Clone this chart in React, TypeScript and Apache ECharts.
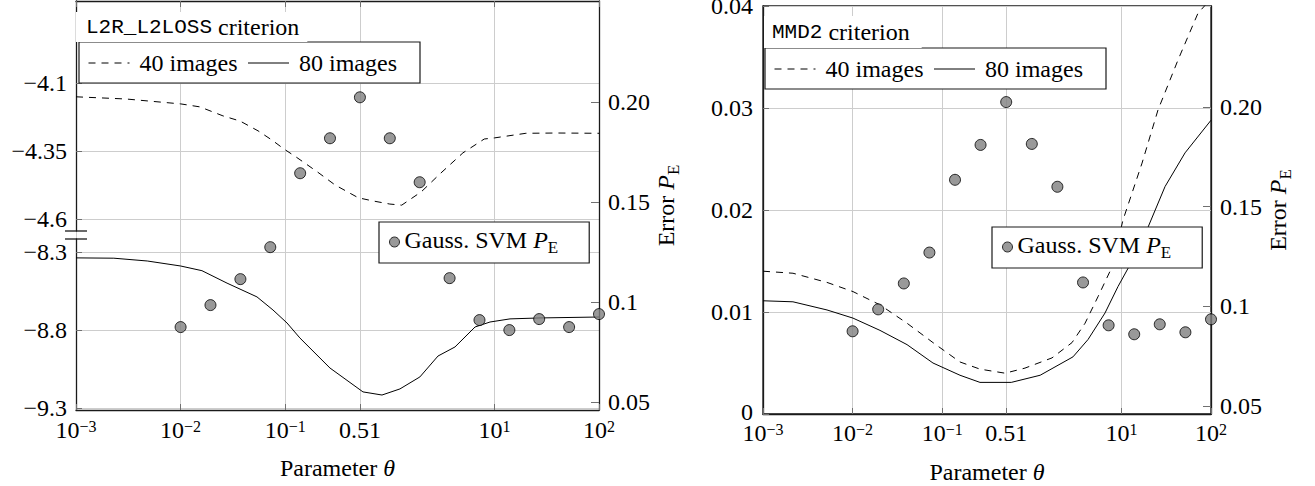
import React, { useEffect, useRef } from 'react';
import * as echarts from 'echarts';

// ---------- data ----------
const thetaTicks = [0.001, 0.01, 0.1, 0.518, 10, 100];
const errorTicks = [0.05, 0.1, 0.15, 0.2];
const l2rUpperTicks = [-4.1, -4.35, -4.6];
const l2rLowerTicks = [-8.3, -8.8, -9.3];

const svmTheta = [0.01, 0.0193, 0.0373, 0.072, 0.139, 0.268, 0.518, 1, 1.93, 3.73, 7.2, 13.9, 26.8, 51.8, 100];
const l2rSvmError = [0.0875, 0.0985, 0.1115, 0.1275, 0.1645, 0.182, 0.2025, 0.182, 0.16, 0.112, 0.091, 0.086, 0.0915, 0.0875, 0.094];
const mmdSvmError = [0.0875, 0.0985, 0.1115, 0.127, 0.1635, 0.181, 0.2025, 0.1815, 0.16, 0.112, 0.0905, 0.086, 0.091, 0.087, 0.0935];

const l2r40Theta = [0.001, 0.003, 0.01, 0.0153, 0.0254, 0.037, 0.055, 0.0748, 0.0975, 0.127, 0.2, 0.3, 0.5, 0.7, 1, 1.3, 2, 3, 5, 8, 10, 20, 40, 100];
const l2r40Crit = [-4.151, -4.159, -4.177, -4.188, -4.221, -4.24, -4.276, -4.31, -4.343, -4.372, -4.425, -4.475, -4.522, -4.534, -4.545, -4.549, -4.5, -4.435, -4.357, -4.306, -4.302, -4.285, -4.284, -4.285];

const l2r80Theta = [0.001, 0.0023, 0.0048, 0.01, 0.016, 0.0278, 0.0537, 0.0764, 0.104, 0.138, 0.268, 0.554, 0.842, 1.25, 1.94, 2.89, 4.2, 6.53, 9.08, 14.1, 27.3, 100];
const l2r80Crit = [-8.338, -8.34, -8.358, -8.39, -8.42, -8.5, -8.588, -8.672, -8.755, -8.851, -9.044, -9.197, -9.217, -9.178, -9.101, -8.967, -8.909, -8.781, -8.749, -8.729, -8.723, -8.717];

const mmd40Theta = [0.001, 0.00216, 0.00518, 0.0101, 0.0202, 0.0405, 0.0789, 0.158, 0.264, 0.503, 0.839, 1.68, 2.81, 3.93, 5.48, 7.85, 10.4, 17, 25.6, 42.8, 71.6, 100];
const mmd40Crit = [0.014, 0.0138, 0.0129, 0.012, 0.0107, 0.0089, 0.007, 0.0051, 0.0044, 0.004, 0.0045, 0.0055, 0.007, 0.0089, 0.0115, 0.0144, 0.019, 0.0246, 0.0298, 0.0347, 0.0393, 0.0407];

const mmd80Theta = [0.001, 0.00216, 0.00518, 0.0101, 0.0202, 0.0405, 0.0789, 0.158, 0.264, 0.59, 1.24, 2.88, 4.24, 6.56, 9.17, 11.9, 19.8, 30.7, 51.3, 100];
const mmd80Crit = [0.0111, 0.011, 0.0102, 0.0094, 0.0082, 0.0068, 0.005, 0.0038, 0.0031, 0.0031, 0.0038, 0.0056, 0.0073, 0.0099, 0.0125, 0.0143, 0.0183, 0.0223, 0.0256, 0.0288];

// ---------- styles ----------
const SERIF = 'Liberation Serif';
const MONO = 'Liberation Mono';
const AXIS = '#1a1a1a';
const GRID = '#cdcdcd';
const TICK = '#707070';
const FS = 24;

const zip = (xs: number[], ys: number[]) => xs.map((x, i) => [x, ys[i]]);
const neg = (v: number) => (v < 0 ? '\u2212' + String(Math.abs(v)) : String(v));

const fmtTheta = (v: number) => {
  if (Math.abs(v - 0.518) < 1e-6) return '{n|0.51}';
  const e = Math.round(Math.log10(v));
  return `{b|10}{s|${e < 0 ? '\u2212' + -e : e}}`;
};
const fmtErr = (v: number) => (Math.abs(v - 0.2) < 1e-9 ? '0.20' : String(Number(v.toFixed(3))));
const fmtMmd = (v: number) => (v === 0 ? '{z|0}' : v.toFixed(2));

const base = { fontFamily: SERIF, fontWeight: 'normal', color: '#000' };
const thetaRich = {
  b: { ...base, fontSize: FS, lineHeight: 32, verticalAlign: 'top' },
  s: { ...base, fontSize: 16, lineHeight: 16, verticalAlign: 'top' },
  n: { ...base, fontSize: FS, lineHeight: 20, verticalAlign: 'top' },
};
const mathRich = {
  r: { ...base, fontSize: FS, lineHeight: 28, verticalAlign: 'top' },
  i: { ...base, fontSize: FS, fontStyle: 'italic', lineHeight: 28, verticalAlign: 'top' },
  s: { ...base, fontSize: 17, lineHeight: 17, verticalAlign: 'bottom' },
};
const titleRich = {
  t: { ...base, fontFamily: MONO, fontSize: 21, lineHeight: 24 },
  r: { ...base, fontSize: FS, lineHeight: 24 },
};

const axisLine = { show: true, lineStyle: { color: AXIS, width: 1.3 } };
const labelFont = { ...base, fontSize: FS };

const thetaBottomAxis = (gridIndex: number, margin: number) => ({
  type: 'log',
  logBase: 10,
  gridIndex,
  min: 0.001,
  max: 100,
  position: 'bottom',
  name: '{r|Parameter }{i|\u03b8}',
  nameLocation: 'middle',
  nameGap: 46,
  nameTextStyle: { ...base, fontSize: FS, rich: mathRich },
  axisLine,
  axisTick: { show: true, inside: true, length: 6, customValues: thetaTicks, lineStyle: { color: TICK } },
  axisLabel: { show: true, customValues: thetaTicks, formatter: fmtTheta, margin, rich: thetaRich, ...labelFont },
  splitLine: { show: true, lineStyle: { color: GRID, width: 1 } },
  minorTick: { show: false },
  minorSplitLine: { show: false },
});

const errorAxis = (gridIndex: number) => ({
  type: 'value',
  gridIndex,
  position: 'right',
  min: 0.046,
  max: 0.2507,
  name: '{r|Error }{i|P}{s|E}',
  nameLocation: 'middle',
  nameGap: 54,
  nameTextStyle: { ...base, fontSize: FS, rich: mathRich },
  axisLine,
  axisTick: { show: true, inside: true, length: 8, customValues: errorTicks, lineStyle: { color: TICK } },
  axisLabel: { show: true, customValues: errorTicks, formatter: fmtErr, margin: 9, ...labelFont, lineHeight: 14 },
  splitLine: { show: false },
});

const critAxis = (gridIndex: number, min: number, max: number, ticks: number[]) => ({
  type: 'value',
  gridIndex,
  position: 'left',
  min,
  max,
  axisLine,
  axisTick: { show: true, inside: true, length: 6, customValues: ticks, lineStyle: { color: TICK } },
  axisLabel: { show: true, customValues: ticks, formatter: neg, margin: 9, ...labelFont, lineHeight: 14 },
  splitLine: { show: true, lineStyle: { color: GRID, width: 1 } },
});

const dashed = { color: '#000', width: 1, type: [7, 6] as number[] };
const solid = { color: '#000', width: 1, type: 'solid' };
const marker = { color: '#7f7f7f', borderColor: '#000', borderWidth: 1 };

const lineLegend = (left: number, top: number) => ({
  data: ['40 images', '80 images'],
  left,
  top,
  orient: 'horizontal',
  selectedMode: false,
  padding: [8, 21, 7, 9],
  itemGap: 8,
  itemWidth: 41,
  itemHeight: 14,
  itemStyle: { color: 'rgba(0,0,0,0)', borderColor: 'rgba(0,0,0,0)', borderWidth: 0, opacity: 0 },
  lineStyle: { opacity: 1, color: '#000', width: 1 },
  borderColor: AXIS,
  borderWidth: 1.2,
  borderRadius: 0,
  backgroundColor: '#fff',
  textStyle: { ...base, fontSize: FS, lineHeight: 26, width: 100, padding: [0, 0, 0, 5] },
});

const svmLegend = (left: number, top: number) => ({
  data: [{ name: 'Gauss. SVM P_E', icon: 'circle' }],
  left,
  top,
  selectedMode: false,
  padding: [6, 31, 7, 10],
  itemWidth: 10,
  itemHeight: 10,
  itemStyle: marker,
  borderColor: AXIS,
  borderWidth: 1.2,
  borderRadius: 0,
  backgroundColor: '#fff',
  formatter: () => '{r|Gauss. SVM }{i|P}{s|E}',
  textStyle: { ...base, fontSize: FS, rich: mathRich },
});

const option = {
  animation: false,
  backgroundColor: '#fff',
  textStyle: { fontFamily: SERIF },
  title: [
    {
      text: '{t|L2R_L2LOSS}{r| criterion}',
      left: 76,
      top: 12,
      padding: [3, 8, 3, 10],
      backgroundColor: '#fff',
      textStyle: { ...base, fontSize: FS, rich: titleRich },
    },
    {
      text: '{t|MMD2}{r| criterion}',
      left: 764,
      top: 16,
      padding: [4, 12, 4, 8],
      backgroundColor: '#fff',
      textStyle: { ...base, fontSize: FS, rich: titleRich },
    },
  ],
  grid: [
    { left: 76, top: 1, width: 523, height: 409, outerBoundsMode: 'none' },
    { left: 76, top: 1, width: 523, height: 230, outerBoundsMode: 'none' },
    { left: 76, top: 239, width: 523, height: 171, outerBoundsMode: 'none' },
    { left: 763, top: 6, width: 448, height: 408, show: true, borderColor: AXIS, borderWidth: 1.3, outerBoundsMode: 'none' },
  ],
  xAxis: [
    thetaBottomAxis(0, 8),
    {
      type: 'log',
      logBase: 10,
      gridIndex: 1,
      min: 0.001,
      max: 100,
      position: 'top',
      axisLine,
      axisTick: { show: true, inside: true, length: 6, customValues: thetaTicks, lineStyle: { color: TICK } },
      axisLabel: { show: false },
      splitLine: { show: false },
    },
    { type: 'log', logBase: 10, gridIndex: 2, min: 0.001, max: 100, show: false },
    thetaBottomAxis(3, 7),
  ],
  yAxis: [
    errorAxis(0),
    critAxis(1, -4.644, -3.799, l2rUpperTicks),
    critAxis(2, -9.313, -8.217, l2rLowerTicks),
    {
      type: 'value',
      gridIndex: 3,
      position: 'left',
      min: 0,
      max: 0.04,
      interval: 0.01,
      axisLine,
      axisTick: { show: true, inside: true, length: 6, lineStyle: { color: TICK } },
      axisLabel: {
        show: true,
        margin: 10,
        formatter: fmtMmd,
        ...labelFont,
        lineHeight: 12,
        rich: { z: { ...labelFont, lineHeight: 12, padding: [0, 0, 5, 0] } },
      },
      splitLine: { show: true, lineStyle: { color: GRID, width: 1 } },
    },
    errorAxis(3),
  ],
  legend: [lineLegend(79, 42), svmLegend(379, 222), lineLegend(765, 48), svmLegend(992, 227)],
  series: [
    {
      type: 'line',
      name: '40 images',
      xAxisIndex: 1,
      yAxisIndex: 1,
      data: zip(l2r40Theta, l2r40Crit),
      symbol: 'none',
      showSymbol: false,
      itemStyle: { color: '#000' },
      lineStyle: dashed,
      z: 3,
    },
    {
      type: 'line',
      name: '80 images',
      xAxisIndex: 2,
      yAxisIndex: 2,
      data: zip(l2r80Theta, l2r80Crit),
      symbol: 'none',
      showSymbol: false,
      itemStyle: { color: '#000' },
      lineStyle: solid,
      z: 3,
    },
    {
      type: 'scatter',
      name: 'Gauss. SVM P_E',
      xAxisIndex: 0,
      yAxisIndex: 0,
      data: zip(svmTheta, l2rSvmError),
      symbol: 'circle',
      symbolSize: 11,
      itemStyle: marker,
      clip: false,
      z: 5,
    },
    {
      type: 'line',
      name: '40 images',
      xAxisIndex: 3,
      yAxisIndex: 3,
      data: zip(mmd40Theta, mmd40Crit),
      symbol: 'none',
      showSymbol: false,
      itemStyle: { color: '#000' },
      lineStyle: dashed,
      clip: true,
      z: 3,
    },
    {
      type: 'line',
      name: '80 images',
      xAxisIndex: 3,
      yAxisIndex: 3,
      data: zip(mmd80Theta, mmd80Crit),
      symbol: 'none',
      showSymbol: false,
      itemStyle: { color: '#000' },
      lineStyle: solid,
      z: 3,
    },
    {
      type: 'scatter',
      name: 'Gauss. SVM P_E',
      xAxisIndex: 3,
      yAxisIndex: 4,
      data: zip(svmTheta, mmdSvmError),
      symbol: 'circle',
      symbolSize: 11,
      itemStyle: marker,
      clip: false,
      z: 5,
    },
  ],
  graphic: [
    { type: 'line', shape: { x1: 65, y1: 231, x2: 87, y2: 231 }, style: { stroke: AXIS, lineWidth: 1.3 }, z: 10 },
    { type: 'line', shape: { x1: 65, y1: 239, x2: 87, y2: 239 }, style: { stroke: AXIS, lineWidth: 1.3 }, z: 10 },
  ],
};

export default function App() {
  const ref = useRef<HTMLDivElement>(null);
  useEffect(() => {
    if (!ref.current) return;
    const chart = echarts.init(ref.current, null, { renderer: 'svg' });
    chart.setOption(option as any);
    return () => chart.dispose();
  }, []);
  return (
    <div
      ref={ref}
      style={{ position: 'fixed', left: 0, top: 0, width: 1315, height: 486, background: '#fff' }}
    />
  );
}
